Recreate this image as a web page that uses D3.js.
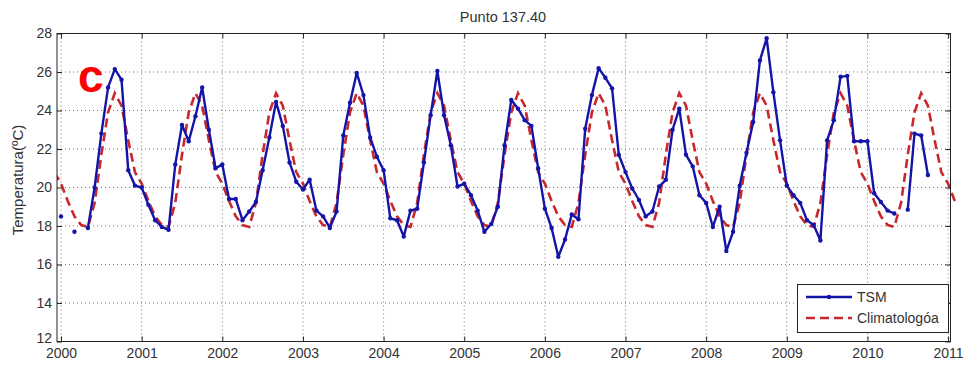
<!DOCTYPE html>
<html>
<head>
<meta charset="utf-8">
<script src="https://cdn.jsdelivr.net/npm/d3@7"></script>
<style>
  body { margin: 0; background: #fff; }
  svg { display: block; font-family: "Liberation Sans", Arial, sans-serif; }
</style>
</head>
<body>
<script>
// ticks
const yearTicks = [2000, 2001, 2002, 2003, 2004, 2005, 2006, 2007, 2008, 2009, 2010, 2011];
const tempTicks = [12, 14, 16, 18, 20, 22, 24, 26, 28];

// climatologia mensual (ene..dic), se repite cada ano
const climatology = [20.2, 19.3, 18.5, 18.05, 17.95, 19.2, 21.7, 23.9, 24.9, 24.25, 22.45, 20.8];

// TSM mensual desde ene 2000 (null = sin dato)
const tsmValues = [
  18.5, null, 17.7, null, 17.9, 20.0, 22.8, 25.2, 26.15, 25.6, 20.9, 20.1,     // 2000
  20.0, 19.1, 18.3, 17.95, 17.8, 21.2, 23.25, 22.4, 23.7, 25.2, 23.0, 21.0,    // 2001
  21.2, 19.4, 19.4, 18.3, 18.75, 19.25, 20.9, 22.6, 24.45, 23.2, 21.3, 20.3,   // 2002
  19.9, 20.4, 18.8, 18.5, 17.9, 18.75, 22.7, 24.4, 25.95, 24.8, 22.6, 21.6,    // 2003
  20.9, 18.4, 18.3, 17.45, 18.8, 18.9, 21.3, 23.75, 26.05, 23.75, 22.2, 20.05, // 2004
  20.2, 19.6, 18.8, 17.7, 18.1, 19.0, 22.2, 24.55, 24.1, 23.5, 23.2, 21.0,     // 2005
  18.9, 17.9, 16.4, 17.3, 18.6, 18.35, 23.05, 24.8, 26.2, 25.7, 25.15, 21.7,   // 2006
  20.8, 19.95, 19.35, 18.5, 18.75, 20.05, 20.4, 23.0, 24.1, 21.7, 21.1, 19.6,  // 2007
  19.2, 17.95, 19.0, 16.7, 17.7, 20.1, 21.8, 23.4, 26.6, 27.75, 24.95, 22.45,  // 2008
  20.1, 19.6, 19.2, 18.3, 18.05, 17.25, 22.45, 23.5, 25.75, 25.8, 22.4, 22.4,  // 2009
  22.4, 19.7, 19.25, 18.8, 18.65, null, 18.85, 22.8, 22.7, 20.65               // 2010
];

const W = 968, H = 368;
const pLeft = 57, pRight = 950.5, pTop = 33.5, pBottom = 341.5;

const svg = d3.select("body").append("svg").attr("width", W).attr("height", H);

const x = d3.scaleLinear().domain([1999.95, 2011.03]).range([pLeft, pRight]);
const y = d3.scaleLinear().domain([12, 28]).range([pBottom, pTop]);

const tsm = tsmValues.map((v, i) => ({ t: 2000 + i / 12, v: v }));
// dic 1999 .. feb 2011
const clim = d3.range(-1, 134).map(i => ({ t: 2000 + i / 12, v: climatology[((i % 12) + 12) % 12] }));

// el original deja pasar un poco la climatologia por la derecha
svg.append("clipPath").attr("id", "plotClip")
  .append("rect").attr("x", pLeft).attr("y", pTop).attr("width", 962 - pLeft).attr("height", pBottom - pTop);

// grilla punteada
const grid = svg.append("g").attr("stroke", "#777").attr("stroke-width", 1).attr("stroke-dasharray", "1,3");
grid.selectAll("line.v").data(yearTicks).enter().append("line")
  .attr("x1", d => x(d)).attr("x2", d => x(d)).attr("y1", pTop).attr("y2", pBottom);
grid.selectAll("line.h").data(tempTicks.slice(1, -1)).enter().append("line")
  .attr("x1", pLeft).attr("x2", pRight).attr("y1", d => y(d)).attr("y2", d => y(d));

const plot = svg.append("g").attr("clip-path", "url(#plotClip)");

const line = d3.line().defined(d => d.v != null).x(d => x(d.t)).y(d => y(d.v));

plot.append("path").datum(clim)
  .attr("d", line).attr("fill", "none")
  .attr("stroke", "#c8282d").attr("stroke-width", 2.6).attr("stroke-dasharray", "9,5");

plot.append("path").datum(tsm)
  .attr("d", line).attr("fill", "none")
  .attr("stroke", "#1414a8").attr("stroke-width", 2.4).attr("stroke-linejoin", "round");

plot.selectAll("circle").data(tsm.filter(d => d.v != null)).enter().append("circle")
  .attr("cx", d => x(d.t)).attr("cy", d => y(d.v)).attr("r", 2.2).attr("fill", "#1414a8");

// ejes (ticks hacia adentro)
function styleAxis(g) {
  g.select(".domain").remove();
  g.selectAll(".tick line").attr("stroke", "#222");
  g.selectAll(".tick text").attr("fill", "#333").style("font-size", "14px");
}

svg.append("g").attr("transform", `translate(0,${pBottom})`)
  .call(d3.axisBottom(x).tickValues(yearTicks).tickSize(-5).tickPadding(7).tickFormat(d3.format("d")))
  .call(styleAxis);
svg.append("g").attr("transform", `translate(0,${pTop})`)
  .call(d3.axisTop(x).tickValues(yearTicks).tickSize(-5).tickFormat(""))
  .call(styleAxis);
const yAxisG = svg.append("g").attr("transform", `translate(${pLeft},0)`)
  .call(d3.axisLeft(y).tickValues(tempTicks).tickSize(-5).tickPadding(5))
  .call(styleAxis);
// "12" un poco mas arriba, como en el original
yAxisG.selectAll(".tick text").filter(d => d == 12).attr("dy", "0.05em");
svg.append("g").attr("transform", `translate(${pRight},0)`)
  .call(d3.axisRight(y).tickValues(tempTicks).tickSize(-5).tickFormat(""))
  .call(styleAxis);

svg.append("rect").attr("x", pLeft).attr("y", pTop).attr("width", pRight - pLeft).attr("height", pBottom - pTop)
  .attr("fill", "none").attr("stroke", "#222").attr("stroke-width", 1);

// textos
svg.append("text").attr("x", 503).attr("y", 22).attr("text-anchor", "middle")
  .attr("fill", "#333").style("font-size", "14.5px").text("Punto 137.40");

svg.append("text").attr("transform", "translate(23,180) rotate(-90)").attr("text-anchor", "middle")
  .attr("fill", "#333").style("font-size", "15px").text("Temperatura(ºC)");

svg.append("text").attr("x", 78).attr("y", 92)
  .attr("fill", "#ff0000").style("font-size", "46px").style("font-weight", "bold").text("c");

// leyenda
const legend = svg.append("g");
legend.append("rect").attr("x", 797.5).attr("y", 284.5).attr("width", 151).attr("height", 48)
  .attr("fill", "#fff").attr("stroke", "#222").attr("stroke-width", 1);
legend.append("line").attr("x1", 806).attr("x2", 852).attr("y1", 297).attr("y2", 297)
  .attr("stroke", "#1414a8").attr("stroke-width", 2.4);
legend.append("circle").attr("cx", 829).attr("cy", 297).attr("r", 2.2).attr("fill", "#1414a8");
legend.append("line").attr("x1", 806).attr("x2", 852).attr("y1", 318).attr("y2", 318)
  .attr("stroke", "#c8282d").attr("stroke-width", 2.6).attr("stroke-dasharray", "9,5");
legend.append("text").attr("x", 857).attr("y", 302).attr("fill", "#333").style("font-size", "14px").text("TSM");
legend.append("text").attr("x", 857).attr("y", 323).attr("fill", "#333").style("font-size", "14px").text("Climatologóa");
</script>
</body>
</html>
